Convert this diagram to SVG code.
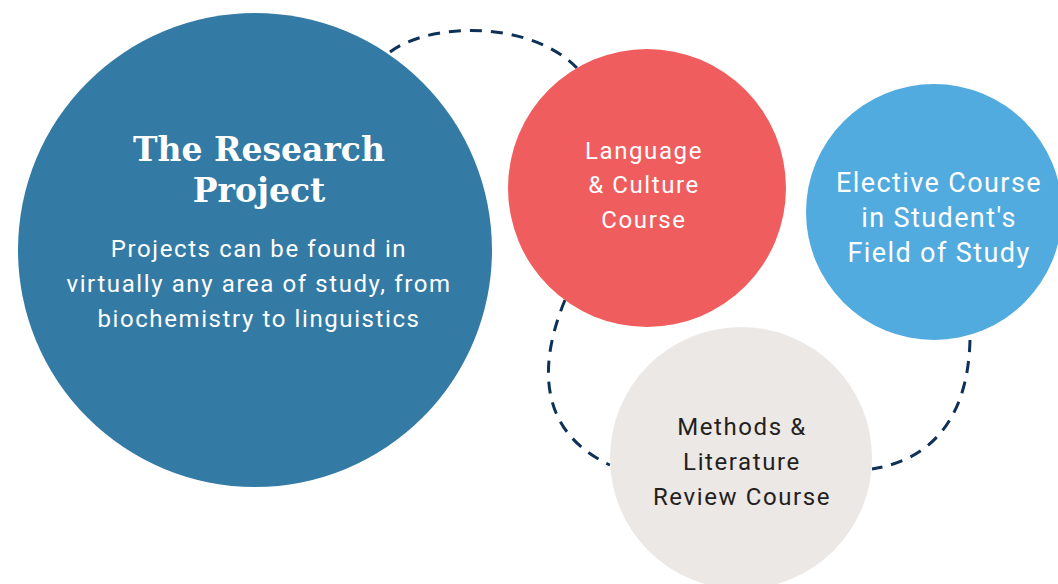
<svg xmlns="http://www.w3.org/2000/svg" width="1058" height="584" viewBox="0 0 1058 584">
<style>
.lbl{font-family:Roboto,"Liberation Sans",sans-serif;font-size:24px;text-anchor:middle;letter-spacing:1.6px}
.big{font-size:27px;letter-spacing:1.4px}
.w{fill:#ffffff}
.d{fill:#231f20}
.title{font-family:"DejaVu Serif","Liberation Serif",serif;font-weight:bold;font-size:33px;fill:#ffffff;text-anchor:middle}
.dash{fill:none;stroke:#0d3157;stroke-width:3;stroke-dasharray:12 9}
</style>
<rect width="1058" height="584" fill="#ffffff"/>
<g id="connectors">
<path class="dash" d="M390,52 C430,22 530,20 577,68"/>
<path class="dash" d="M565,300 C540,360 535,430 610,465"/>
<path class="dash" d="M970,340 C968,420 930,460 872,469"/>
</g>
<g id="research">
<circle cx="255" cy="250" r="237" fill="#337aa5"/>
<text class="title" x="259" y="161">The Research</text>
<text class="title" x="259" y="202">Project</text>
<text class="lbl w" x="259" y="257">Projects can be found in</text>
<text class="lbl w" x="259" y="292">virtually any area of study, from</text>
<text class="lbl w" x="259" y="327">biochemistry to linguistics</text>
</g>
<g id="language">
<circle cx="647" cy="188" r="139" fill="#f05d5e"/>
<text class="lbl w" x="644" y="159">Language</text>
<text class="lbl w" x="644" y="193">&amp; Culture</text>
<text class="lbl w" x="644" y="228">Course</text>
</g>
<g id="elective">
<circle cx="934" cy="212" r="128" fill="#52abde"/>
<text class="lbl big w" x="939" y="192">Elective Course</text>
<text class="lbl big w" x="939" y="227">in Student's</text>
<text class="lbl big w" x="939" y="262">Field of Study</text>
</g>
<g id="methods">
<circle cx="741" cy="458" r="131" fill="#ece8e5"/>
<text class="lbl d" x="742" y="435">Methods &amp;</text>
<text class="lbl d" x="742" y="470">Literature</text>
<text class="lbl d" x="742" y="505">Review Course</text>
</g>
</svg>
